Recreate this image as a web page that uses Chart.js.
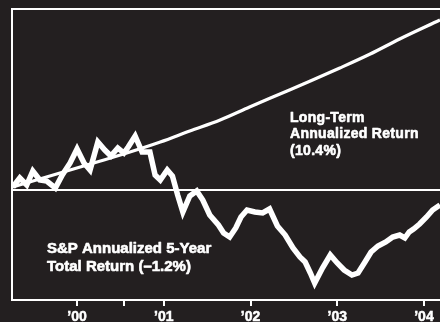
<!DOCTYPE html>
<html>
<head>
<meta charset="utf-8">
<script src="https://cdn.jsdelivr.net/npm/chart.js@4.4.0/dist/chart.umd.min.js"></script>
<style>
  html, body { margin: 0; padding: 0; background: #231f20; }
  #wrap { width: 440px; height: 322px; }
</style>
</head>
<body>
<div id="wrap"><canvas id="chart" width="440" height="322"></canvas></div>
<script>
// S&P 5-year annualized return (x in years, y in chart units)
const spYears = [1999.26, 1999.34, 1999.42, 1999.49, 1999.57, 1999.65, 1999.75, 1999.83, 1999.92, 2000.00,
    2000.08, 2000.15, 2000.24, 2000.32, 2000.39, 2000.47, 2000.54, 2000.59, 2000.67, 2000.75,
    2000.84, 2000.90, 2000.96, 2001.04, 2001.10, 2001.16, 2001.22, 2001.30, 2001.38, 2001.45,
    2001.53, 2001.63, 2001.69, 2001.76, 2001.83, 2001.89, 2001.96, 2002.05, 2002.14, 2002.22,
    2002.31, 2002.40, 2002.49, 2002.57, 2002.63, 2002.69, 2002.74, 2002.83, 2002.92, 2003.00,
    2003.08, 2003.17, 2003.24, 2003.32, 2003.39, 2003.47, 2003.56, 2003.64, 2003.72, 2003.78,
    2003.83, 2003.88, 2003.95, 2004.03, 2004.10, 2004.185];
const spReturns = [0.25, 1.15, 0.45, 1.85, 0.95, 0.85, 0.15, 1.45, 2.65, 4.05,
    2.65, 1.95, 4.75, 3.95, 3.35, 4.15, 3.65, 4.25, 5.35, 3.75,
    3.75, 1.45, 0.95, 1.95, 1.35, -0.55, -2.25, -0.65, -0.15, -1.05,
    -2.55, -3.55, -4.35, -4.75, -3.85, -2.75, -2.05, -2.25, -2.35, -1.95,
    -3.65, -4.55, -5.85, -6.75, -7.25, -8.35, -9.35, -7.85, -6.55, -7.35,
    -8.05, -8.55, -8.35, -7.25, -6.25, -5.65, -5.25, -4.75, -4.55, -4.85,
    -4.25, -3.95, -3.45, -2.75, -2.05, -1.55];

// long-term annualized return curve
const trendYears = [1999.26, 1999.57, 1999.92, 2000.27, 2000.61, 2000.96, 2001.30, 2001.65,
    2001.99, 2002.34, 2002.69, 2003.03, 2003.38, 2003.72, 2004.185];
const trendReturns = [0.25, 1.05, 1.95, 2.85, 3.75, 4.75, 5.85, 6.95,
    8.25, 9.55, 10.85, 12.15, 13.55, 15.05, 16.95];

const tickYears = [2000, 2000.54, 2001, 2002, 2003, 2004];
const tickLabels = ['\u201900', '', '\u201901', '\u201902', '\u201903', '\u201904'];

const longTermNote = ['Long-Term', 'Annualized Return', '(10.4%)'];
const spNote = ['S&P Annualized 5-Year', 'Total Return (\u20131.2%)'];

const white = '#ffffff';
const bg = '#231f20';
const fontFamily = '"Liberation Sans", Arial, sans-serif';

function toPoints(xs, ys) {
    return xs.map((x, i) => ({ x: x, y: ys[i] }));
}

function heavyText(ctx, text, x, y) {
    ctx.strokeText(text, x, y);
    ctx.fillText(text, x, y);
}

const notesPlugin = {
    id: 'notes',
    beforeDraw(chart) {
        const ctx = chart.ctx;
        ctx.save();
        ctx.fillStyle = bg;
        ctx.fillRect(0, 0, chart.width, chart.height);
        ctx.restore();
    },
    afterDraw(chart) {
        const { ctx, chartArea } = chart;
        ctx.save();
        // top frame line
        ctx.strokeStyle = white;
        ctx.lineWidth = 2;
        ctx.beginPath();
        ctx.moveTo(chartArea.left - 1, chartArea.top);
        ctx.lineTo(chartArea.right, chartArea.top);
        ctx.stroke();

        ctx.fillStyle = white;
        ctx.lineWidth = 0.6;
        ctx.lineJoin = 'round';
        ctx.textBaseline = 'alphabetic';
        ctx.font = 'bold 14px ' + fontFamily;
        ctx.letterSpacing = '0.3px';
        longTermNote.forEach((line, i) => heavyText(ctx, line, 290, 122 + i * 16.3));
        ctx.font = 'bold 15px ' + fontFamily;
        ctx.letterSpacing = '0px';
        spNote.forEach((line, i) => heavyText(ctx, line, 47, 253 + i * 18.4));
        ctx.restore();
    }
};

window.onload = function () {
    const ctx = document.getElementById('chart').getContext('2d');
    new Chart(ctx, {
        type: 'line',
        data: {
            datasets: [{
                label: 'Long-Term Annualized Return',
                data: toPoints(trendYears, trendReturns),
                borderColor: white,
                borderWidth: 3.2,
                pointRadius: 0,
                cubicInterpolationMode: 'monotone',
                fill: false
            }, {
                label: 'S&P Annualized 5-Year Total Return',
                data: toPoints(spYears, spReturns),
                borderColor: white,
                borderWidth: 5.5,
                pointRadius: 0,
                tension: 0,
                borderJoinStyle: 'miter',
                fill: false
            }]
        },
        options: {
            responsive: false,
            animation: false,
            layout: { padding: { left: 12, top: 9, right: 0, bottom: 0 } },
            plugins: {
                legend: { display: false },
                tooltip: { enabled: false }
            },
            scales: {
                x: {
                    type: 'linear',
                    min: 1999.25,
                    max: 2004.185,
                    afterBuildTicks: scale => {
                        scale.ticks = tickYears.map(v => ({ value: v }));
                    },
                    afterFit: scale => { scale.height = 22; },
                    grid: {
                        drawOnChartArea: false,
                        drawTicks: true,
                        tickLength: 6,
                        color: white,
                        lineWidth: 2
                    },
                    border: { display: true, color: white, width: 2 },
                    ticks: {
                        autoSkip: false,
                        maxRotation: 0,
                        padding: 4,
                        color: white,
                        textStrokeColor: white,
                        textStrokeWidth: 0.5,
                        font: { family: fontFamily, size: 14, weight: 'bold', lineHeight: 1 },
                        callback: (value, index) => tickLabels[index]
                    }
                },
                y: {
                    type: 'linear',
                    min: -11.05,
                    max: 18.05,
                    afterBuildTicks: scale => {
                        scale.ticks = [{ value: 0 }];
                    },
                    afterFit: scale => { scale.width = 0; },
                    grid: {
                        drawTicks: false,
                        color: white,
                        lineWidth: 2
                    },
                    border: { display: true, color: white, width: 2 },
                    ticks: { display: false }
                }
            }
        },
        plugins: [notesPlugin]
    });
};
</script>
</body>
</html>
